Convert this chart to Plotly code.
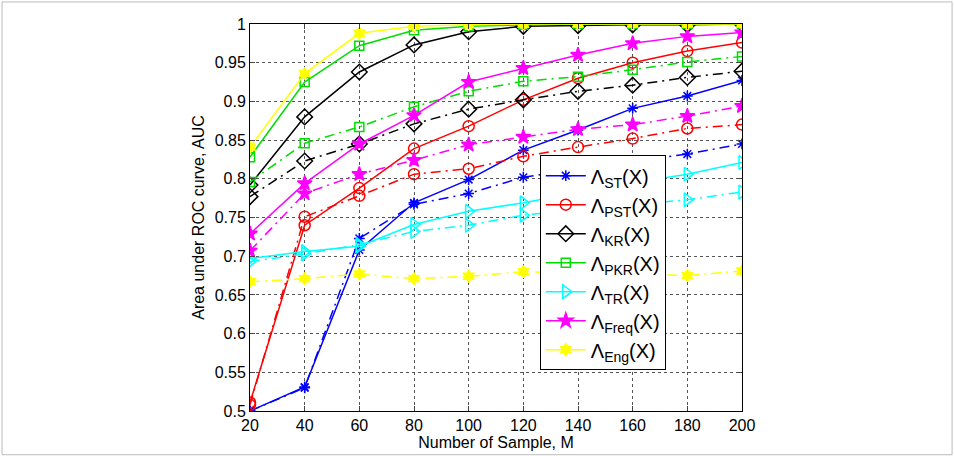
import plotly.graph_objects as go

M = [20, 40, 60, 80, 100, 120, 140, 160, 180, 200]

st_solid   = [0.500, 0.531, 0.708, 0.769, 0.799, 0.837, 0.863, 0.891, 0.907, 0.927]
st_dash    = [0.500, 0.530, 0.723, 0.767, 0.781, 0.802, 0.812, 0.822, 0.832, 0.845]
pst_solid  = [0.511, 0.740, 0.788, 0.839, 0.868, 0.902, 0.930, 0.950, 0.965, 0.976]
pst_dash   = [0.508, 0.751, 0.778, 0.806, 0.813, 0.829, 0.841, 0.852, 0.865, 0.870]
kr_solid   = [0.792, 0.880, 0.938, 0.973, 0.990, 0.997, 0.998, 0.999, 0.999, 1.000]
kr_dash    = [0.777, 0.823, 0.845, 0.871, 0.890, 0.902, 0.913, 0.921, 0.931, 0.939]
pkr_solid  = [0.828, 0.925, 0.972, 0.992, 0.997, 0.999, 1.000, 1.000, 1.000, 1.000]
pkr_dash   = [0.796, 0.846, 0.867, 0.893, 0.913, 0.926, 0.932, 0.941, 0.951, 0.958]
tr_solid   = [0.697, 0.706, 0.713, 0.741, 0.758, 0.769, 0.782, 0.795, 0.806, 0.821]
tr_dash    = [0.693, 0.703, 0.715, 0.732, 0.740, 0.753, 0.760, 0.766, 0.773, 0.783]
freq_solid = [0.729, 0.794, 0.845, 0.882, 0.925, 0.943, 0.960, 0.975, 0.984, 0.989]
freq_dash  = [0.707, 0.781, 0.806, 0.824, 0.844, 0.854, 0.864, 0.870, 0.881, 0.894]
eng_solid  = [0.841, 0.936, 0.988, 0.997, 0.999, 1.000, 1.000, 1.000, 1.000, 1.000]
eng_dash   = [0.667, 0.671, 0.677, 0.671, 0.674, 0.680, 0.678, 0.677, 0.675, 0.681]

x_ticks = [20, 40, 60, 80, 100, 120, 140, 160, 180, 200]
y_ticks = [0.5, 0.55, 0.6, 0.65, 0.7, 0.75, 0.8, 0.85, 0.9, 0.95, 1]
y_ticktext = ["0.5", "0.55", "0.6", "0.65", "0.7", "0.75", "0.8", "0.85", "0.9", "0.95", "1"]

series = [
    ("Λ<sub>ST</sub>(X)", st_solid, st_dash, "#0000FF", "asterisk-open", 9),
    ("Λ<sub>PST</sub>(X)", pst_solid, pst_dash, "#FF0000", "circle-open", 11),
    ("Λ<sub>KR</sub>(X)", kr_solid, kr_dash, "#000000", "diamond-open", 12),
    ("Λ<sub>PKR</sub>(X)", pkr_solid, pkr_dash, "#00DD00", "square-open", 9),
    ("Λ<sub>TR</sub>(X)", tr_solid, tr_dash, "#00FFFF", "triangle-right-open", 12),
    ("Λ<sub>Freq</sub>(X)", freq_solid, freq_dash, "#FF00FF", "star", 11),
    ("Λ<sub>Eng</sub>(X)", eng_solid, eng_dash, "#FFFF00", "hexagram", 9),
]

fig = go.Figure()
for name, sol, dsh, col, sym, size in series:
    mk = dict(symbol=sym, size=size, color=col, line=dict(color=col, width=1.5))
    fig.add_trace(go.Scatter(x=M, y=dsh, mode="lines+markers", name=name, showlegend=False,
                             line=dict(color=col, width=1.5, dash="10px,5px,2px,5px"), marker=mk))
    fig.add_trace(go.Scatter(x=M, y=sol, mode="lines+markers", name=name, showlegend=True,
                             line=dict(color=col, width=1.5), marker=mk))

fig.update_layout(
    width=954, height=456,
    margin=dict(l=250, r=212, t=24, b=45),
    paper_bgcolor="white", plot_bgcolor="white",
    font=dict(family="Liberation Sans, Arial, sans-serif", size=15, color="black"),
    showlegend=True,
    legend=dict(x=0.589, y=0.661, xanchor="left", yanchor="top",
                bgcolor="white", bordercolor="black", borderwidth=1,
                font=dict(size=20), tracegroupgap=0, itemwidth=40),
    shapes=[dict(type="rect", xref="paper", yref="paper", x0=-0.504, x1=1.427, y0=-0.113, y1=1.057,
                 line=dict(color="#BBBBBB", width=1), layer="below")],
)
fig.update_xaxes(range=[20, 200], tickvals=x_ticks, ticks="inside", ticklen=5, mirror="ticks",
                 showline=True, linecolor="black", linewidth=1,
                 showgrid=True, gridcolor="#555555", griddash="dot", gridwidth=1, zeroline=False,
                 title=dict(text="Number of Sample, M", standoff=0, font=dict(size=16)),
                 tickfont=dict(size=16))
fig.update_yaxes(range=[0.5, 1], tickvals=y_ticks, ticktext=y_ticktext, ticks="inside", ticklen=5,
                 mirror="ticks", showline=True, linecolor="black", linewidth=1,
                 showgrid=True, gridcolor="#555555", griddash="dot", gridwidth=1, zeroline=False,
                 title=dict(text="Area under ROC curve, AUC", standoff=6, font=dict(size=16)),
                 tickfont=dict(size=16))

fig.write_html("out.html")
